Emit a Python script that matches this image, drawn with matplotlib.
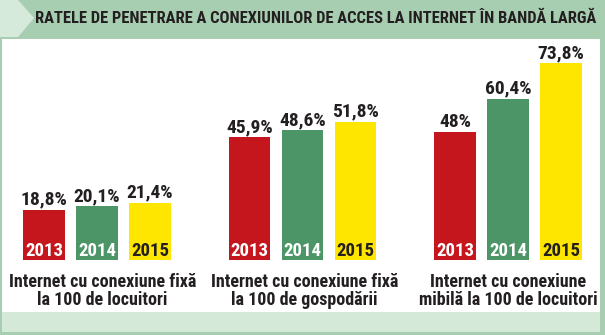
import matplotlib
matplotlib.use('Agg')
import matplotlib.pyplot as plt
from matplotlib.patches import Rectangle, Polygon

plt.rcParams['font.family'] = ['Roboto Condensed', 'Archivo Narrow', 'PT Sans Narrow', 'DejaVu Sans']
plt.rcParams['font.weight'] = 'bold'

title = 'RATELE DE PENETRARE A CONEXIUNILOR DE ACCES LA INTERNET ÎN BANDĂ LARGĂ'
years = ['2013', '2014', '2015']
categories = ['Internet cu conexiune fixă\nla 100 de locuitori',
              'Internet cu conexiune fixă\nla 100 de gospodării',
              'Internet cu conexiune\nmibilă la 100 de locuitori']
values = [[18.8, 20.1, 21.4],
          [45.9, 48.6, 51.8],
          [48.0, 60.4, 73.8]]
labels = [['18,8%', '20,1%', '21,4%'],
          ['45,9%', '48,6%', '51,8%'],
          ['48%', '60,4%', '73,8%']]

bar_colors = ['#c5161d', '#4b9567', '#ffe600']
year_colors = ['white', 'white', '#231f20']
dark = '#231f20'

W, H = 605, 335
fig = plt.figure(figsize=(W / 100, H / 100), dpi=100)
fig.patch.set_facecolor('#a8ceb2')

def px(x, y, w, h):
    # pixel box (from top-left) -> figure fraction
    return [x / W, 1 - (y + h) / H, w / W, h / H]

bg = fig.add_axes([0, 0, 1, 1])
bg.set_xlim(0, W)
bg.set_ylim(H, 0)
bg.axis('off')
bg.add_patch(Polygon([(0, 0), (18, 0), (34, 18), (18, 37), (0, 37)], closed=True,
                     facecolor='#d6eadb', edgecolor='none'))
bg.add_patch(Rectangle((2, 39), 598, 273, facecolor='white', edgecolor='none'))
bg.add_patch(Rectangle((2, 312), 598, 20, facecolor='#d5e9d8', edgecolor='none'))
bg.text(596, 18.5, title, ha='right', va='center', fontsize=11.85, color=dark)

# bar axes: baseline at y=260px, top at y=39px
ax = fig.add_axes(px(0, 39, W, 221))
ax.set_facecolor('none')
gap = 3.877
ax.set_xlim(-44 / 53, (W - 44) / 53)
ax.set_ylim(0, 221 / 2.67)
ax.axis('off')

label_shift = [4, 1.5, 0]  # points, small nudge of the group captions
for g, (vals, labs) in enumerate(zip(values, labels)):
    xs = [g * gap + j for j in range(3)]
    ax.bar(xs, vals, width=0.79, color=bar_colors)
    for j, x in enumerate(xs):
        ax.annotate(labs[j], (x, vals[j]), xytext=(0, 3.6), textcoords='offset points',
                    ha='center', va='baseline', fontsize=14, color=dark)
        ax.annotate(years[j], (x, 0), xytext=(0, 2.6), textcoords='offset points',
                    ha='center', va='baseline', fontsize=13.5, color=year_colors[j])
    ax.annotate(categories[g], (g * gap + 1, 0), xytext=(label_shift[g], -9.5),
                textcoords='offset points', ha='center', va='top', fontsize=13,
                color=dark, linespacing=1.0, annotation_clip=False)

fig.savefig('out.png', dpi=100, facecolor=fig.get_facecolor())
